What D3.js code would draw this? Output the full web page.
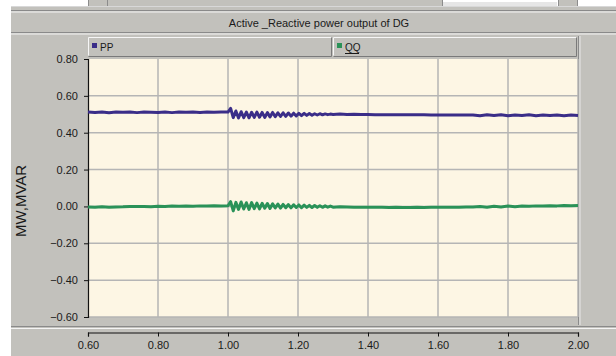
<!DOCTYPE html>
<html>
<head>
<meta charset="utf-8">
<script src="https://cdn.jsdelivr.net/npm/d3@7"></script>
<style>
  html, body { margin: 0; padding: 0; background: #ffffff; }
  svg { display: block; }
  text { font-family: "Liberation Sans", Arial, sans-serif; fill: #1a1a1a; }
</style>
</head>
<body>
<svg id="chart" width="616" height="356"></svg>
<script>
// ---------------- data ----------------
const chartTitle = "Active _Reactive power output of DG";
const yAxisTitle = "MW,MVAR";
const seriesNames = ["PP", "QQ"];
const seriesColors = ["#3a2d88", "#2a9258"];
const xTicks = [0.60, 0.80, 1.00, 1.20, 1.40, 1.60, 1.80, 2.00];
const yTicks = [0.80, 0.60, 0.40, 0.20, 0.00, -0.20, -0.40, -0.60];

const time = [
  0.60,0.62,0.64,0.66,0.68,0.70,0.72,0.74,0.76,0.78,0.80,0.82,0.84,0.86,0.88,0.90,0.92,0.94,0.96,0.98,1.00,
  1.0075,1.015,1.0225,1.03,1.0375,1.045,1.0525,1.06,1.0675,1.075,1.0825,1.09,1.0975,1.105,1.1125,1.12,1.1275,1.135,1.1425,1.15,
  1.1575,1.165,1.1725,1.18,1.1875,1.195,1.2025,1.21,1.2175,1.225,1.2325,1.24,1.2475,1.255,1.2625,1.27,1.2775,1.285,1.2925,1.30,
  1.32,1.34,1.36,1.38,1.40,1.42,1.44,1.46,1.48,1.50,1.52,1.54,1.56,1.58,1.60,1.62,1.64,1.66,1.68,1.70,
  1.72,1.74,1.76,1.78,1.80,1.82,1.84,1.86,1.88,1.90,1.92,1.94,1.96,1.98,2.00
];
const ppValues = [
  0.512,0.510,0.512,0.508,0.512,0.511,0.513,0.509,0.512,0.511,0.510,0.512,0.509,0.512,0.511,0.513,0.510,0.512,0.511,0.513,0.512,
  0.532,0.482,0.518,0.480,0.514,0.482,0.512,0.481,0.511,0.483,0.512,0.484,0.510,0.483,0.509,0.486,0.510,0.487,0.508,0.488,
  0.508,0.489,0.507,0.490,0.506,0.491,0.505,0.493,0.505,0.494,0.504,0.495,0.503,0.496,0.503,0.497,0.502,0.498,0.501,0.499,
  0.501,0.499,0.500,0.499,0.499,0.498,0.498,0.498,0.497,0.497,0.497,0.497,0.497,0.496,0.496,0.496,0.496,0.496,0.496,0.496,
  0.492,0.497,0.493,0.497,0.492,0.496,0.493,0.497,0.492,0.496,0.493,0.496,0.492,0.496,0.494
];
const qqValues = [
  -0.003,-0.004,-0.002,-0.005,-0.003,-0.002,0.000,-0.001,0.000,-0.002,0.001,0.000,0.002,0.001,0.002,0.001,0.003,0.002,0.004,0.003,0.004,
  0.026,-0.024,0.022,-0.016,0.024,-0.014,0.020,-0.016,0.021,-0.012,0.018,-0.013,0.017,-0.010,0.016,-0.011,0.014,-0.008,0.013,-0.009,
  0.011,-0.007,0.010,-0.008,0.009,-0.006,0.008,-0.007,0.007,-0.005,0.006,-0.006,0.005,-0.005,0.004,-0.005,0.003,-0.004,0.002,-0.004,
  -0.002,-0.003,-0.004,-0.004,-0.005,-0.005,-0.005,-0.006,-0.005,-0.006,-0.006,-0.005,-0.006,-0.005,-0.005,-0.005,-0.004,-0.004,-0.003,-0.003,
  0.000,-0.004,0.001,-0.003,0.002,-0.002,0.002,0.001,0.003,0.002,0.004,0.003,0.005,0.004,0.005
];

// ---------------- layout ----------------
const svg = d3.select("#chart");
const W = 616, H = 356;
const panelX = 11;
const plot = { left: 88, right: 578, top: 59, bottom: 317 };
const bg = "#c2c1bc";

const x = d3.scaleLinear().domain([0.6, 2.0]).range([plot.left, plot.right]);
const y = d3.scaleLinear().domain([-0.6, 0.8]).range([plot.bottom, plot.top]);

// panel background
svg.append("rect").attr("x", panelX).attr("y", 0).attr("width", W - panelX).attr("height", H).attr("fill", bg);
// top toolbar remnant
svg.append("rect").attr("x", panelX).attr("y", 0).attr("width", W - panelX).attr("height", 6).attr("fill", "#ffffff");
const topBoxes = [[88, 107], [107, 442], [558, 577]];
topBoxes.forEach(([a, b]) => {
  svg.append("rect").attr("x", a + 0.5).attr("y", -2).attr("width", b - a).attr("height", 8.5)
    .attr("fill", bg).attr("stroke", "#8c8c8c").attr("stroke-width", 1);
});
svg.append("rect").attr("x", 443).attr("y", 2).attr("width", 114).attr("height", 4).attr("fill", "#e6e6e6");
svg.append("line").attr("x1", panelX).attr("x2", W).attr("y1", 6.5).attr("y2", 6.5).attr("stroke", "#d8d8d8");

// title band lines
const hline = (yy, col, w) => svg.append("line").attr("x1", panelX).attr("x2", W)
  .attr("y1", yy).attr("y2", yy).attr("stroke", col).attr("stroke-width", w || 1);
hline(10.5, "#8a8a8a"); hline(12, "#f4f4f4");
hline(32.5, "#8a8a8a"); hline(34, "#f4f4f4");

svg.append("text").attr("x", 319).attr("y", 27).attr("text-anchor", "middle")
  .style("font-size", "11px").text(chartTitle);

// legend boxes
const legendBoxes = [[88, 332], [333, 577]];
seriesNames.forEach((name, i) => {
  const [a, b] = legendBoxes[i];
  const g = svg.append("g");
  g.append("rect").attr("x", a).attr("y", 37).attr("width", b - a).attr("height", 19).attr("fill", bg);
  g.append("path").attr("d", `M${a + 0.5},55.5 V37.5 H${b - 0.5}`).attr("fill", "none").attr("stroke", "#f6f6f6");
  g.append("path").attr("d", `M${a + 0.5},56.5 H${b - 0.5} V37.5`).attr("fill", "none").attr("stroke", "#7a7a7a");
  g.append("rect").attr("x", a + 4).attr("y", 43).attr("width", 5).attr("height", 5).attr("fill", seriesColors[i]);
  g.append("text").attr("x", a + 12).attr("y", 51).style("font-size", "10px").text(name);
  if (i === 1) {
    g.append("line").attr("x1", a + 12).attr("x2", a + 26).attr("y1", 53.5).attr("y2", 53.5).attr("stroke", "#1a1a1a");
  }
});

// right strip separator
svg.append("line").attr("x1", 578.5).attr("x2", 578.5).attr("y1", 36).attr("y2", 325)
  .attr("stroke", "#8a8a8a");
svg.append("line").attr("x1", 580).attr("x2", 580).attr("y1", 36).attr("y2", 325)
  .attr("stroke", "#e8e8e8");

// plot background
svg.append("rect").attr("x", plot.left).attr("y", plot.top).attr("width", plot.right - plot.left)
  .attr("height", plot.bottom - plot.top).attr("fill", "#fdf6e4");

// grid
const grid = svg.append("g").attr("stroke", "#b5b5b5").attr("stroke-width", 1.5);
xTicks.slice(1).forEach(v => grid.append("line").attr("x1", x(v)).attr("x2", x(v))
  .attr("y1", plot.top).attr("y2", plot.bottom));
yTicks.slice(1, -1).forEach(v => grid.append("line").attr("x1", plot.left).attr("x2", plot.right)
  .attr("y1", y(v)).attr("y2", y(v)));
grid.append("line").attr("x1", plot.left).attr("x2", plot.right).attr("y1", plot.bottom).attr("y2", plot.bottom);

// y axis
const yAxis = d3.axisLeft(y).tickValues(yTicks).tickSize(4).tickPadding(6).tickFormat(d3.format(".2f"));
const gy = svg.append("g").attr("transform", `translate(${plot.left},0)`).call(yAxis);
gy.select(".domain").attr("stroke", "#111").attr("stroke-width", 1.2);
gy.selectAll(".tick line").attr("stroke", "#111");
gy.selectAll(".tick text").style("font-size", "11px").style("font-family", "Liberation Sans, Arial, sans-serif").attr("fill", "#222");

svg.append("text").attr("transform", "translate(25.5,201) rotate(-90)").attr("text-anchor", "middle")
  .style("font-size", "15px").attr("fill", "#2a2a2a").text(yAxisTitle);

// bottom separator
hline(326.5, "#8a8a8a"); hline(328.5, "#f4f4f4");

// x axis
const xAxis = d3.axisBottom(x).tickValues(xTicks).tickSize(4).tickPadding(5).tickFormat(d3.format(".2f"));
const gx = svg.append("g").attr("transform", `translate(0,332.5)`).call(xAxis);
gx.select(".domain").attr("stroke", "#111").attr("stroke-width", 1.2);
gx.selectAll(".tick line").attr("stroke", "#111");
gx.selectAll(".tick text").style("font-size", "11px").style("font-family", "Liberation Sans, Arial, sans-serif").attr("fill", "#222");

// series lines
const series = [ppValues, qqValues];
series.forEach((vals, i) => {
  const pts = time.map((t, k) => [t, vals[k]]);
  svg.append("path").datum(pts)
    .attr("fill", "none").attr("stroke", seriesColors[i]).attr("stroke-width", 3)
    .attr("stroke-linejoin", "round")
    .attr("d", d3.line().x(d => x(d[0])).y(d => y(d[1])));
});
</script>
</body>
</html>
